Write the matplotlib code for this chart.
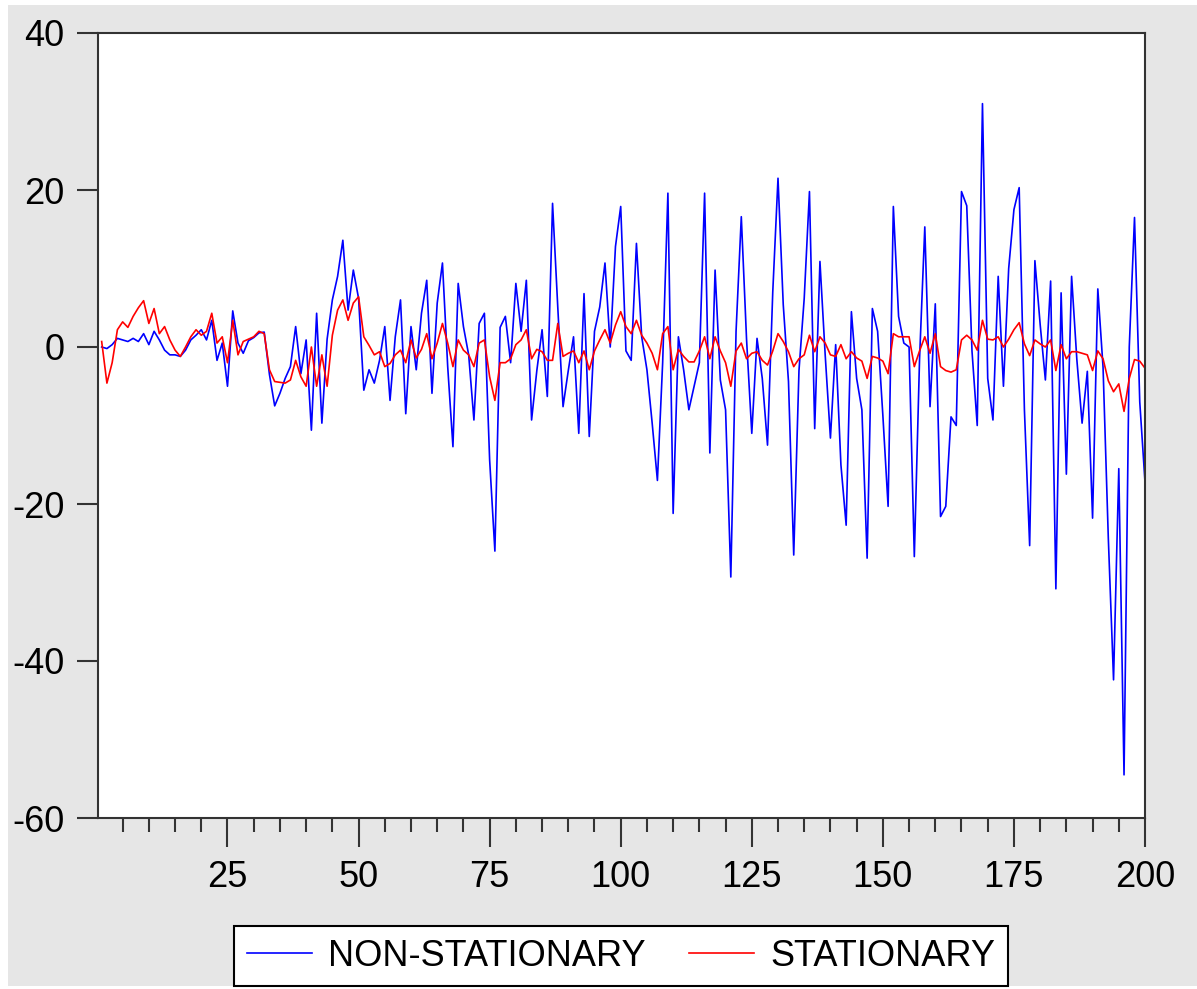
import matplotlib
matplotlib.use("Agg")
import matplotlib.pyplot as plt
from matplotlib.patches import Rectangle
from matplotlib.ticker import MultipleLocator
import numpy as np

# observations 1..200
obs = np.arange(1, 201)

non_stationary = [
    0.0, -0.2, 0.3, 1.1, 0.9, 0.7, 1.1, 0.7, 1.7, 0.3,
    2.0, 0.9, -0.4, -1.0, -1.0, -1.2, -0.4, 0.9, 1.5, 2.2,
    0.9, 3.4, -1.7, 0.5, -5.0,
    4.6, 0.5, -0.8, 0.8, 1.2, 1.8, 1.9, -3.5, -7.5, -5.9,
    -4.0, -2.5, 2.6, -3.4, 0.9, -10.6, 4.3, -9.7, 1.0, 6.0,
    9.0, 13.6, 4.7, 9.8, 6.2,
    -5.5, -2.9, -4.6, -1.7, 2.6, -6.8, 1.3, 6.0, -8.5, 2.6,
    -2.9, 4.3, 8.5, -5.9, 5.6, 10.7, -2.5, -12.7, 8.1, 2.6,
    -1.0, -9.3, 3.0, 4.3, -14.4,
    -26.0, 2.5, 3.9, -2.0, 8.1, 2.0, 8.5, -9.3, -3.0, 2.2,
    -6.3, 18.3, 5.0, -7.6, -3.0, 1.3, -11.0, 6.8, -11.4, 2.0,
    5.1, 10.7, 0.0, 12.8, 17.9,
    -0.5, -1.7, 13.2, 1.3, -2.9, -9.7, -17.0, -2.0, 19.6, -21.2,
    1.3, -2.9, -8.0, -5.0, -2.0, 19.6, -13.5, 9.8, -4.2, -8.0,
    -29.3, 2.0, 16.6, 1.0, -11.0,
    1.1, -4.0, -12.5, 7.0, 21.5, 5.4, -4.4, -26.5, -3.0, 6.2,
    19.8, -10.4, 10.9, -1.0, -11.6, 0.3, -15.0, -22.7, 4.5, -4.0,
    -8.0, -26.9, 4.9, 2.0, -8.7,
    -20.3, 17.9, 3.9, 0.5, 0.0, -26.7, -1.5, 15.3, -7.6, 5.5,
    -21.6, -20.3, -8.9, -10.0, 19.8, 18.0, -0.5, -10.0, 31.0, -4.0,
    -9.3, 9.0, -5.0, 10.0, 17.5,
    20.3, -8.0, -25.3, 11.0, 2.9, -4.2, 8.4, -30.8, 6.9, -16.2,
    9.0, -1.6, -9.7, -3.1, -21.8, 7.4, -2.6, -24.3, -42.4, -15.5,
    -54.5, 0.0, 16.5, -7.0, -17.2,
]

stationary = [
    0.7, -4.6, -2.0, 2.2, 3.2, 2.5, 3.9, 5.0, 5.9, 3.0,
    4.9, 1.7, 2.6, 0.9, -0.4, -1.2, 0.0, 1.3, 2.2, 1.5,
    2.0, 4.3, 0.5, 1.3, -2.0,
    3.4, -1.0, 0.7, 1.0, 1.3, 2.0, 1.7, -2.9, -4.4, -4.5,
    -4.6, -4.2, -1.7, -3.8, -5.0, 0.0, -5.0, -1.0, -5.0, 1.5,
    4.7, 6.0, 3.4, 5.6, 6.4,
    1.3, 0.2, -1.0, -0.6, -2.5, -2.1, -1.0, -0.4, -2.0, 0.9,
    -1.4, -0.3, 1.7, -1.5, 0.5, 3.0, 0.5, -2.5, 0.9, -0.4,
    -1.0, -2.5, 0.5, 0.9, -3.8,
    -6.8, -2.0, -2.0, -1.5, 0.3, 0.9, 2.2, -1.5, -0.3, -0.6,
    -1.7, -1.7, 3.0, -1.2, -0.8, -0.5, -2.0, -0.5, -2.9, -0.5,
    0.9, 2.2, 0.5, 2.8, 4.5,
    2.6, 1.7, 3.4, 1.5, 0.5, -0.8, -2.9, 1.7, 2.6, -2.9,
    -0.3, -1.2, -1.9, -1.9, -0.5, 1.3, -1.5, 1.3, -0.5, -2.0,
    -5.0, -0.5, 0.5, -1.5, -0.8,
    -0.6, -1.7, -2.3, -0.5, 1.7, 0.7, -0.6, -2.5, -1.5, -1.0,
    1.5, -0.6, 1.3, 0.5, -1.0, -1.2, 0.3, -1.5, -0.6, -1.4,
    -1.8, -4.0, -1.2, -1.4, -1.8,
    -3.4, 1.7, 1.3, 1.3, 1.3, -2.5, -0.5, 1.3, -0.8, 1.7,
    -2.5, -3.0, -3.2, -2.9, 0.9, 1.5, 0.9, -0.4, 3.4, 1.0,
    0.9, 1.3, 0.0, 1.0, 2.2,
    3.1, 0.4, -1.1, 0.9, 0.4, 0.0, 0.9, -3.0, 0.3, -1.5,
    -0.6, -0.6, -0.8, -1.0, -3.0, -0.5, -1.5, -4.3, -5.7, -4.7,
    -8.2, -4.0, -1.6, -1.8, -2.7,
]

plt.rcParams['font.family'] = ['Liberation Sans', 'DejaVu Sans']
plt.rcParams['axes.unicode_minus'] = False

W, H = 1197, 989
fig = plt.figure(figsize=(W / 100, H / 100), dpi=100, facecolor='white')
# grey panel behind everything (thin white strip on the left / top like the source)
fig.patches.append(Rectangle((8 / W, 3 / H), 1 - 8 / W, 1 - 8 / H,
                             transform=fig.transFigure, facecolor='#e6e6e6',
                             edgecolor='none', zorder=-10))

ax = fig.add_axes([98 / W, 1 - 818 / H, (1145 - 98) / W, (818 - 33) / H])
ax.set_zorder(1)
ax.set_facecolor('white')

ax.plot(obs, non_stationary, color='#0000ff', lw=1.2, label='NON-STATIONARY')
ax.plot(obs, stationary, color='#ff0000', lw=1.2, label='STATIONARY')

ax.set_xlim(0.3, 200)
ax.set_ylim(-60, 40)
ax.set_yticks([-60, -40, -20, 0, 20, 40])
ax.set_xticks([25, 50, 75, 100, 125, 150, 175, 200])
ax.xaxis.set_minor_locator(MultipleLocator(5))

for s in ax.spines.values():
    s.set_color('#333333')
    s.set_linewidth(1.5)

ax.tick_params(axis='y', direction='out', length=15, width=1.5, color='#333333',
               labelsize=26, pad=9, right=False)
ax.tick_params(axis='x', which='major', direction='out', length=21, width=1.5,
               color='#333333', labelsize=26, pad=9, top=False)
ax.tick_params(axis='x', which='minor', direction='out', length=10, width=1.5,
               color='#333333', top=False)

leg = fig.legend(loc='center', bbox_to_anchor=(621 / W, 1 - 956 / H), ncol=2,
                 fontsize=26, frameon=True, fancybox=False, framealpha=1,
                 edgecolor='black', handlelength=1.8, handletextpad=0.45,
                 columnspacing=1.2, borderpad=0.35)
leg.set_zorder(5)
leg.get_frame().set_linewidth(1.5)

fig.savefig('out.png', dpi=100, facecolor=fig.get_facecolor())
